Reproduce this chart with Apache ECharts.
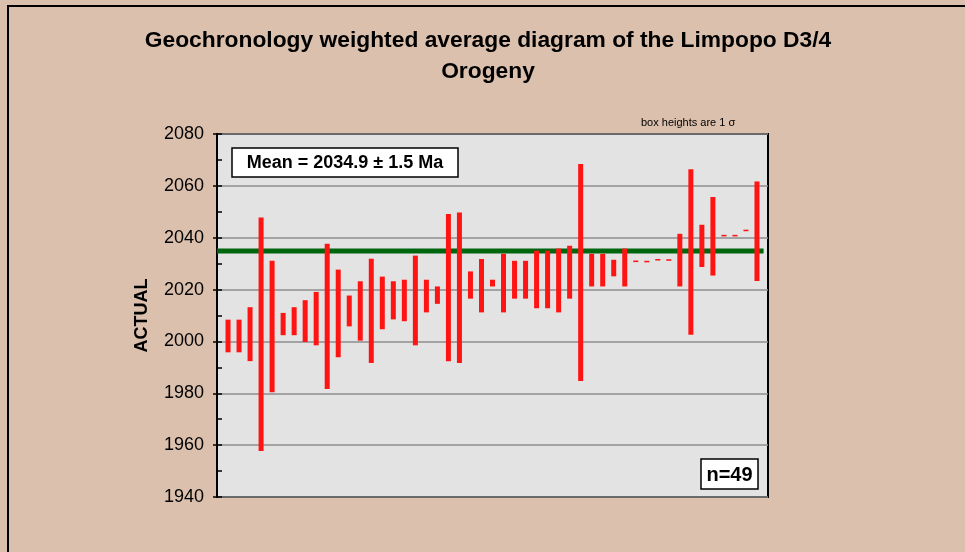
<!DOCTYPE html>
<html>
<head>
<meta charset="utf-8">
<script src="https://cdn.jsdelivr.net/npm/echarts@6/dist/echarts.min.js"></script>
<style>
  html, body { margin: 0; padding: 0; background: #dbc0ae; }
  #chart { width: 965px; height: 552px; }
</style>
</head>
<body>
<div id="chart"></div>
<script>
// weighted average data: low / high edges of each box (2 sigma), in Ma
var lows = [1995.8, 1995.8, 1992.4, 1957.7, 1980.4, 2002.4, 2002.4, 1999.8, 1998.5, 1981.7, 1993.9, 2005.8,
  2000.3, 1991.7, 2004.7, 2008.5, 2007.8, 1998.5, 2011.2, 2014.5, 1992.4, 1991.7, 2016.5, 2011.2,
  2021.2, 2011.2, 2016.5, 2016.5, 2012.8, 2012.8, 2011.2, 2016.5, 1984.7, 2021.2, 2021.2, 2025.1, 2021.2,
  2030.6, 2030.5, 2031.2, 2031.1, 2021.2, 2002.6, 2028.7, 2025.4, 2040.5, 2040.5, 2042.5, 2023.3]
var highs = [2008.4, 2008.4, 2013.2, 2047.8, 2031.1, 2011.0, 2013.2, 2015.9, 2019.1, 2037.7, 2027.7, 2017.7,
  2023.2, 2031.9, 2025.0, 2023.2, 2023.8, 2033.1, 2023.8, 2021.2, 2049.1, 2049.7, 2027.0, 2031.8,
  2023.8, 2033.8, 2031.1, 2031.1, 2035.0, 2035.0, 2035.8, 2036.9, 2068.4, 2033.8, 2033.8, 2031.5, 2035.8,
  2031.2, 2031.1, 2031.8, 2031.7, 2041.5, 2066.4, 2045.0, 2055.7, 2041.1, 2041.1, 2043.1, 2061.7]
var meanAge = 2034.9
var yTicks = [1940, 1960, 1980, 2000, 2020, 2040, 2060, 2080]

var boxes = []
for (var i = 0; i < lows.length; i++) {
  boxes.push([i + 1, lows[i], highs[i]])
}

var chart = echarts.init(document.getElementById('chart'))
var font = 'Liberation Sans, Arial, sans-serif'

chart.setOption({
  backgroundColor: '#dbc0ae',
  animation: false,
  grid: {
    left: 217, right: 197, top: 134, bottom: 55,
    show: true,
    backgroundColor: '#e3e3e3',
    borderColor: '#000',
    borderWidth: 2
  },
  graphic: [
    {
      type: 'rect', silent: true,
      shape: { x: 8, y: 6, width: 1100, height: 1100 },
      style: { fill: 'none', stroke: '#000', lineWidth: 2 }
    },
    {
      type: 'text', x: 488, y: 25,
      style: {
        text: 'Geochronology weighted average diagram of the Limpopo D3/4\nOrogeny',
        font: 'bold 22.8px ' + font, fill: '#000', align: 'center', lineHeight: 31
      }
    },
    {
      type: 'text', x: 641, y: 117,
      style: { text: 'box heights are 1 σ', font: '11px ' + font, fill: '#000' }
    },
    {
      type: 'group', x: 232, y: 148, z: 10,
      children: [
        { type: 'rect', shape: { x: 0, y: 0, width: 226, height: 29 },
          style: { fill: '#fff', stroke: '#000', lineWidth: 1.5 } },
        { type: 'text', x: 113, y: 15,
          style: { text: 'Mean = 2034.9 ± 1.5 Ma', font: 'bold 18px ' + font, fill: '#000',
            align: 'center', verticalAlign: 'middle' } }
      ]
    },
    {
      type: 'group', x: 701, y: 459, z: 10,
      children: [
        { type: 'rect', shape: { x: 0, y: 0, width: 57, height: 30 },
          style: { fill: '#fff', stroke: '#000', lineWidth: 1.5 } },
        { type: 'text', x: 28.5, y: 16,
          style: { text: 'n=49', font: 'bold 20px ' + font, fill: '#000',
            align: 'center', verticalAlign: 'middle' } }
      ]
    }
  ],
  xAxis: {
    type: 'value', min: 0, max: 50, show: false
  },
  yAxis: [
    {
      type: 'value', min: yTicks[0], max: yTicks[yTicks.length - 1], interval: 20,
      name: 'ACTUAL', nameLocation: 'middle', nameRotate: 90, nameGap: 66,
      nameTextStyle: { fontFamily: font, fontWeight: 'bold', fontSize: 18, color: '#000' },
      axisLine: { show: true, lineStyle: { color: '#000', width: 2 } },
      axisTick: { show: true, length: 4, lineStyle: { color: '#000', width: 1.5 } },
      axisLabel: {
        fontFamily: font, fontSize: 18, color: '#000', margin: 13,
        formatter: function (v) { return String(v) }
      },
      splitLine: { show: true, lineStyle: { color: '#8e8e8e', width: 1.5 } }
    },
    {
      // inner ticks every 10 Ma
      type: 'value', min: yTicks[0], max: yTicks[yTicks.length - 1], interval: 10,
      position: 'left',
      axisLine: { show: false },
      axisTick: { show: true, inside: true, length: 5, lineStyle: { color: '#000', width: 1.5 } },
      axisLabel: { show: false },
      splitLine: { show: false }
    }
  ],
  series: [
    {
      type: 'line',
      data: [[0, meanAge], [49.6, meanAge]],
      symbol: 'none',
      lineStyle: { color: '#00660e', width: 5 },
      z: 2
    },
    {
      type: 'custom',
      data: boxes,
      z: 3,
      renderItem: function (params, api) {
        var x = api.value(0)
        var top = api.coord([x, api.value(2)])
        var bot = api.coord([x, api.value(1)])
        var w = 5
        return {
          type: 'rect',
          shape: { x: top[0] - w / 2, y: top[1], width: w, height: Math.max(bot[1] - top[1], 1.5) },
          style: { fill: '#ff1414' }
        }
      }
    }
  ]
})
</script>
</body>
</html>
